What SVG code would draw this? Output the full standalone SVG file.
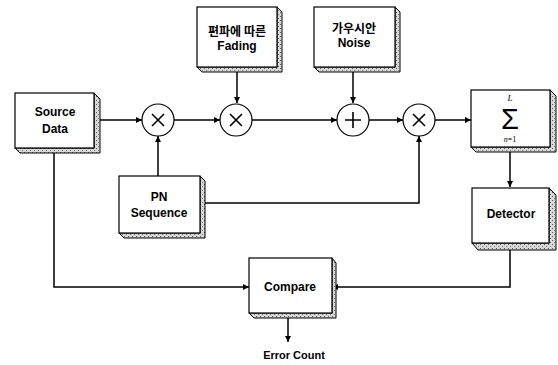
<svg xmlns="http://www.w3.org/2000/svg" width="558" height="365" viewBox="0 0 558 365">
  <style>
    .face { fill: #ffffff; stroke: #000; stroke-width: 1.2; }
    .side { fill: #bdbdbd; stroke: #000; stroke-width: 1; }
    .op { fill: #ffffff; stroke: #000; stroke-width: 1.2; }
    .sym { stroke: #000; stroke-width: 1.6; fill: none; }
    .wire { fill: none; stroke: #000; stroke-width: 1.5; }
    .lbl { font-family: "Liberation Sans", Arial, "Noto Sans CJK KR", sans-serif; font-size: 12px; font-weight: bold; fill: #000; text-anchor: middle; }
    .kr { font-family: "Noto Sans CJK KR", "Liberation Sans", sans-serif; font-size: 12px; font-weight: bold; fill: #000; text-anchor: middle; }
  </style>
  <defs>
    <marker id="arrow" viewBox="0 0 10 10" refX="10" refY="5" markerWidth="8" markerHeight="6" markerUnits="userSpaceOnUse" orient="auto">
      <path d="M0,0 L10,5 L0,10 z" fill="#000"/>
    </marker>
    <pattern id="grain" width="4" height="4" patternUnits="userSpaceOnUse">
      <rect width="4" height="4" fill="#d8d8d8"/>
      <rect x="0" y="0" width="1" height="1" fill="#555"/>
      <rect x="2" y="2" width="1" height="1" fill="#777"/>
    </pattern>
  </defs>

  <!-- connectors -->
  <g id="connectors">
    <line class="wire" x1="94" y1="120" x2="142" y2="120" marker-end="url(#arrow)"/>
    <line class="wire" x1="174" y1="120" x2="220" y2="120" marker-end="url(#arrow)"/>
    <line class="wire" x1="252" y1="120" x2="337" y2="120" marker-end="url(#arrow)"/>
    <line class="wire" x1="369" y1="120" x2="403" y2="120" marker-end="url(#arrow)"/>
    <line class="wire" x1="435" y1="120" x2="471" y2="120" marker-end="url(#arrow)"/>
    <line class="wire" x1="237" y1="72" x2="237" y2="103" marker-end="url(#arrow)"/>
    <line class="wire" x1="353" y1="72" x2="353" y2="103" marker-end="url(#arrow)"/>
    <line class="wire" x1="158" y1="176" x2="158" y2="136" marker-end="url(#arrow)"/>
    <polyline class="wire" points="200,203 419,203 419,136" marker-end="url(#arrow)"/>
    <line class="wire" x1="510" y1="150" x2="510" y2="187" marker-end="url(#arrow)"/>
    <polyline class="wire" points="510,250 510,287 332,287" marker-end="url(#arrow)"/>
    <polyline class="wire" points="54,152 54,287 249,287" marker-end="url(#arrow)"/>
    <line class="wire" x1="288" y1="318" x2="288" y2="342" marker-end="url(#arrow)"/>
  </g>

  <!-- source data -->
  <g id="source">
    <path class="side" style="fill:url(#grain)" d="M94,93 L100,99 L100,153 L20,153 L15,148 L94,148 Z"/>
    <rect class="face" x="15" y="93" width="79" height="55"/>
    <text class="lbl" x="55" y="116">Source</text>
    <text class="lbl" x="55" y="133">Data</text>
  </g>

  <!-- fading -->
  <g id="fading">
    <path class="side" style="fill:url(#grain)" d="M277,7 L282,12 L282,72 L202,72 L197,67 L277,67 Z"/>
    <rect class="face" x="197" y="7" width="80" height="60"/>
    <text class="kr" x="237" y="36">편파에 따른</text>
    <text class="lbl" x="237" y="50">Fading</text>
  </g>

  <!-- noise -->
  <g id="noise">
    <path class="side" style="fill:url(#grain)" d="M395,7 L400,12 L400,72 L319,72 L314,67 L395,67 Z"/>
    <rect class="face" x="314" y="7" width="81" height="60"/>
    <text class="kr" x="354" y="33">가우시안</text>
    <text class="lbl" x="354" y="47">Noise</text>
  </g>

  <!-- operators -->
  <g id="mult1">
    <circle class="op" cx="158" cy="120" r="16"/>
    <path class="sym" d="M152,114 L164,126 M164,114 L152,126"/>
  </g>
  <g id="mult2">
    <circle class="op" cx="236" cy="120" r="16"/>
    <path class="sym" d="M230,114 L242,126 M242,114 L230,126"/>
  </g>
  <g id="adder">
    <circle class="op" cx="353" cy="120" r="16"/>
    <path class="sym" d="M353,112 L353,128 M345,120 L361,120"/>
  </g>
  <g id="mult3">
    <circle class="op" cx="419" cy="120" r="16"/>
    <path class="sym" d="M413,114 L425,126 M425,114 L413,126"/>
  </g>

  <!-- summation -->
  <g id="sum">
    <path class="side" style="fill:url(#grain)" d="M550,90 L556,96 L556,152 L476,152 L471,147 L550,147 Z"/>
    <rect class="face" x="471" y="90" width="79" height="57"/>
    <text x="510" y="101" font-family="Liberation Serif, serif" font-size="9" font-style="italic" text-anchor="middle">L</text>
    <text x="510" y="129" font-family="Liberation Sans, sans-serif" font-size="29" text-anchor="middle">Σ</text>
    <text x="510" y="142" font-family="Liberation Serif, serif" font-size="8" text-anchor="middle"><tspan font-style="italic">n</tspan>=1</text>
  </g>

  <!-- PN sequence -->
  <g id="pn">
    <path class="side" style="fill:url(#grain)" d="M200,176 L205,181 L205,238 L124,238 L119,233 L200,233 Z"/>
    <rect class="face" x="119" y="176" width="81" height="57"/>
    <text class="lbl" x="159" y="201">PN</text>
    <text class="lbl" x="159" y="217">Sequence</text>
  </g>

  <!-- detector -->
  <g id="detector">
    <path class="side" style="fill:url(#grain)" d="M549,188 L556,195 L556,250 L478,250 L472,243 L549,243 Z"/>
    <rect class="face" x="472" y="188" width="77" height="55"/>
    <text class="lbl" x="511" y="218">Detector</text>
  </g>

  <!-- compare -->
  <g id="compare">
    <path class="side" style="fill:url(#grain)" d="M332,258 L336,263 L336,318 L254,318 L249,313 L332,313 Z"/>
    <rect class="face" x="249" y="258" width="83" height="55"/>
    <text class="lbl" x="290" y="291">Compare</text>
  </g>

  <text class="lbl" x="294" y="359" style="font-size:11px">Error Count</text>
</svg>
